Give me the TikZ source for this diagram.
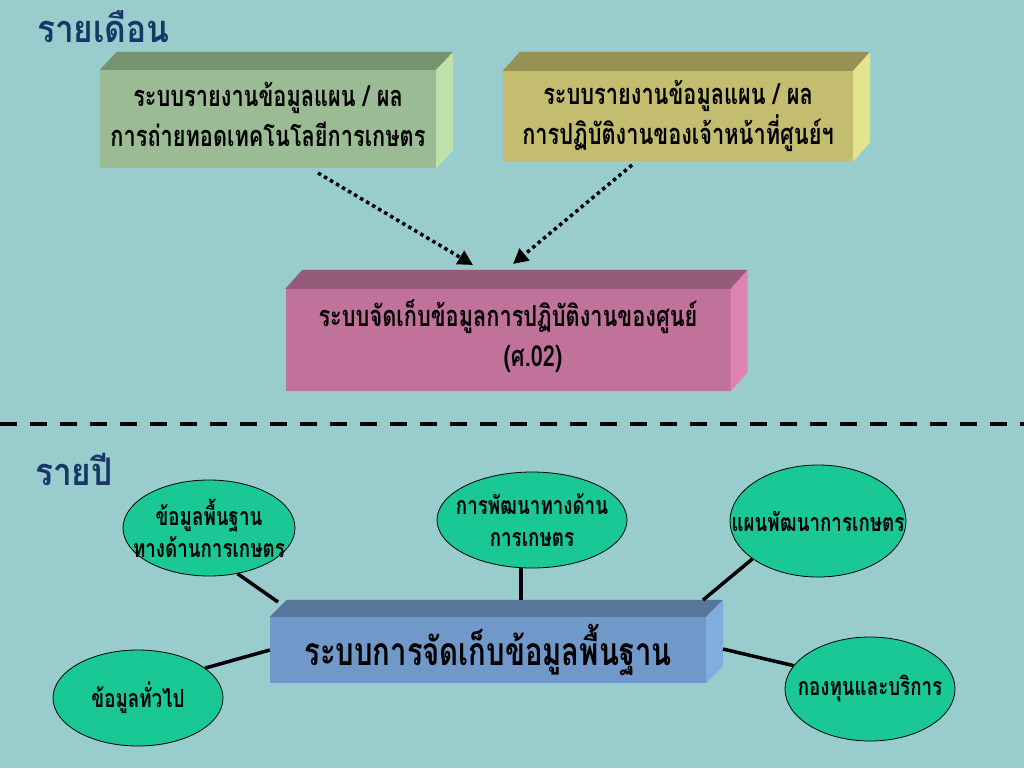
\documentclass[tikz,border=0pt]{standalone}
\usepackage{fontspec}
\newfontfamily\thaifont[Script=Thai,FakeStretch=0.75]{Loma}
\newfontfamily\headfont[Script=Thai,FakeStretch=0.88]{Loma}
\usetikzlibrary{arrows.meta,shapes.geometric}
\definecolor{bg}{RGB}{153,204,204}
\definecolor{titleblue}{RGB}{23,56,102}
\definecolor{greenfront}{RGB}{155,187,148}
\definecolor{greentop}{RGB}{118,148,112}
\definecolor{greenside}{RGB}{190,225,170}
\definecolor{olivefront}{RGB}{196,189,112}
\definecolor{olivetop}{RGB}{150,145,85}
\definecolor{oliveside}{RGB}{228,228,140}
\definecolor{pinkfront}{RGB}{192,114,154}
\definecolor{pinktop}{RGB}{150,90,122}
\definecolor{pinkside}{RGB}{222,130,178}
\definecolor{bluefront}{RGB}{112,152,200}
\definecolor{bluetop}{RGB}{88,118,155}
\definecolor{blueside}{RGB}{128,172,222}
\definecolor{bubblefill}{RGB}{26,200,150}
\tikzset{
  heading/.style={anchor=base west,text=titleblue,inner sep=0pt,font=\headfont\bfseries\fontsize{38}{44}\selectfont},
  slab/.style={inner sep=0pt,align=center,font=\thaifont\bfseries\fontsize{29}{40}\selectfont},
  bubble/.style={ellipse,draw=black,line width=0.8pt,fill=bubblefill,inner sep=0pt},
  bubbletext/.style={inner sep=0pt,align=center,font=\thaifont\bfseries\fontsize{25}{32}\selectfont},
  link/.style={line width=3.5pt},
  feed/.style={line width=3.5pt,dash pattern=on 3.5pt off 3.5pt,-{Triangle[length=15pt,width=15pt]}},
  divider/.style={line width=4pt,dash pattern=on 17pt off 13pt}
}
\begin{document}
\begin{tikzpicture}[x=1pt,y=-1pt]
\fill[bg] (0,0) rectangle (1024,768);
\useasboundingbox (0,0) rectangle (1024,768);
\node[heading] (month) at (37,43) {รายเดือน};
\node[heading] (year) at (35,485) {รายปี};
\node[slab,fill=greenfront,minimum width=336pt,minimum height=98pt,text depth=10pt] (plan) at (268,119) {ระบบรายงานข้อมูลแผน / ผล\\การถ่ายทอดเทคโนโลยีการเกษตร};
\fill[greentop] (plan.north west) -- ++(17,-18) -- ([shift={(17,-18)}]plan.north east) -- (plan.north east) -- cycle;
\fill[greenside] (plan.north east) -- ++(17,-18) -- ([shift={(17,-18)}]plan.south east) -- (plan.south east) -- cycle;
\node[slab,fill=olivefront,minimum width=350pt,minimum height=90pt] (staff) at (678,116) {ระบบรายงานข้อมูลแผน / ผล\\การปฏิบัติงานของเจ้าหน้าที่ศูนย์ฯ};
\fill[olivetop] (staff.north west) -- ++(17,-19) -- ([shift={(17,-19)}]staff.north east) -- (staff.north east) -- cycle;
\fill[oliveside] (staff.north east) -- ++(17,-19) -- ([shift={(17,-19)}]staff.south east) -- (staff.south east) -- cycle;
\node[slab,fill=pinkfront,minimum width=445pt,minimum height=102pt,text depth=14pt] (centre) at (508,340) {ระบบจัดเก็บข้อมูลการปฏิบัติงานของศูนย์\\\hspace*{50pt}(ศ.02)};
\fill[pinktop] (centre.north west) -- ++(17,-19) -- ([shift={(17,-19)}]centre.north east) -- (centre.north east) -- cycle;
\fill[pinkside] (centre.north east) -- ++(17,-19) -- ([shift={(17,-19)}]centre.south east) -- (centre.south east) -- cycle;
\coordinate (f1) at (318,173);
\coordinate (t1) at (473,265);
\coordinate (f2) at (632,165);
\coordinate (t2) at (513,264);
\draw[feed] (f1) -- (t1);
\draw[feed] (f2) -- (t2);
\draw[divider] (0,424) -- (1024,424);
\node[slab,fill=bluefront,minimum width=436pt,minimum height=66pt,font=\thaifont\bfseries\fontsize{39}{44}\selectfont] (base) at (488,650) {ระบบการจัดเก็บข้อมูลพื้นฐาน};
\fill[bluetop] (base.north west) -- ++(17,-17) -- ([shift={(17,-17)}]base.north east) -- (base.north east) -- cycle;
\fill[blueside] (base.north east) -- ++(17,-17) -- ([shift={(17,-17)}]base.south east) -- (base.south east) -- cycle;
\node[bubble,minimum width=172pt,minimum height=96pt] (agri) at (209,528) {};
\node[bubbletext] (agri-t) at (agri) {ข้อมูลพื้นฐาน\\ทางด้านการเกษตร};
\node[bubble,minimum width=190pt,minimum height=96pt] (devel) at (532,520) {};
\node[bubbletext] (devel-t) at (devel) {การพัฒนาทางด้าน\\การเกษตร};
\node[bubble,minimum width=176pt,minimum height=112pt] (scheme) at (818,521) {};
\node[bubbletext] (scheme-t) at (scheme) {แผนพัฒนาการเกษตร};
\node[bubble,minimum width=170pt,minimum height=96pt] (general) at (138,698) {};
\node[bubbletext] (general-t) at (general) {ข้อมูลทั่วไป};
\node[bubble,minimum width=170pt,minimum height=104pt] (fund) at (870,689) {};
\node[bubbletext] (fund-t) at (fund) {กองทุนและบริการ};
\coordinate (s1) at (278,602);
\coordinate (s2) at (521,600);
\coordinate (s3) at (703,600);
\coordinate (s5) at (723,649);
\draw[link] (agri.-58) -- (s1);
\draw[link] (s2 |- devel.south) -- (s2);
\draw[link] (scheme.-150) -- (s3);
\draw[link] (general.24) -- (base.west);
\draw[link] (s5) -- (fund.163);
\end{tikzpicture}
\end{document}
